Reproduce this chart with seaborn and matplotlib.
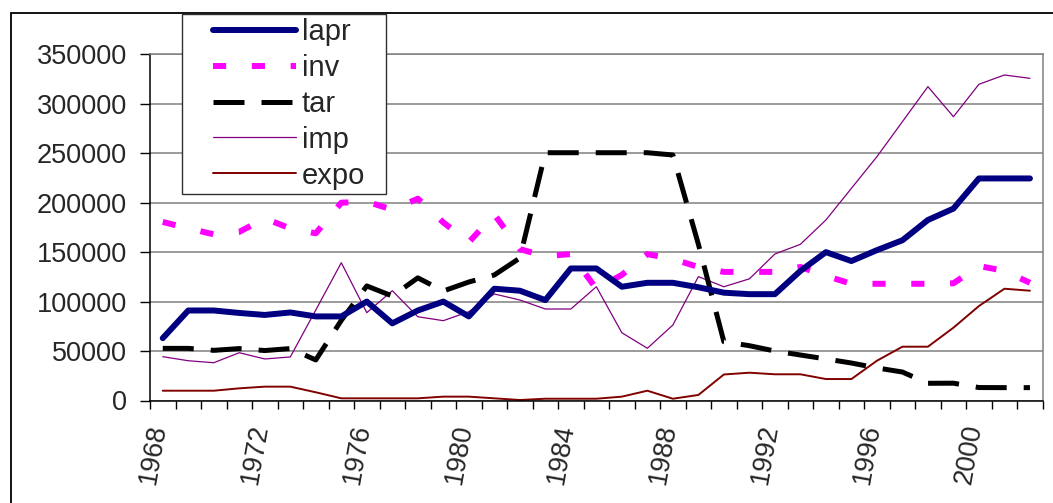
import matplotlib
matplotlib.use('Agg')
import matplotlib.pyplot as plt
import matplotlib.transforms as mtransforms
from matplotlib.patches import Rectangle
import numpy as np
import pandas as pd
import seaborn as sns

years = list(range(1968, 2003))

lapr = [63000, 91000, 91000, 88500, 86500, 89000, 85000, 85000, 100000, 78000,
        91000, 100000, 85000, 113000, 111000, 101500, 133500, 133500, 115000, 119000,
        119000, 114500, 109000, 107500, 107500, 131000, 150000, 141000, 152000, 162000,
        182500, 194000, 224500, 224500, 224500]
inv = [180500, 174000, 168000, 170500, 184000, 174000, 169000, 200000, 201000, 193000,
       204000, 180000, 160000, 188000, 153000, 146000, 148000, 113000, 127000, 148000,
       143000, 135000, 130000, 130000, 130000, 135000, 126000, 118000, 118000, 118000,
       118000, 118500, 136000, 131000, 119000]
tar = [52700, 52700, 50700, 52500, 50500, 52500, 41000, 81000, 115800, 105600,
       124000, 110700, 119800, 126900, 144000, 250500, 250500, 250500, 250500, 250500,
       248200, 158000, 59400, 55400, 50000, 46000, 42000, 37900, 32900, 28800,
       17400, 17500, 13100, 13000, 13000]
imp = [44300, 40200, 38200, 48300, 42000, 44000, 91500, 139300, 88800, 111000,
       84700, 80700, 89800, 107700, 101600, 92500, 92500, 115000, 68500, 52800,
       76300, 125200, 115000, 123000, 148100, 157900, 182500, 214500, 246500, 281900,
       317300, 286900, 319700, 329100, 325700]
expo = [9900, 9900, 9900, 12300, 14000, 14000, 8300, 2200, 2200, 2200,
        2200, 3900, 3900, 2200, 500, 1800, 1800, 1800, 3900, 9900,
        1800, 5600, 26300, 28100, 26500, 26500, 21700, 21700, 40200, 54400,
        54400, 73600, 95500, 113000, 111000]

year_labels = [str(y) for y in range(1968, 2001, 4)]

df = pd.DataFrame({'year': years, 'lapr': lapr, 'inv': inv, 'tar': tar,
                   'imp': imp, 'expo': expo})

sns.set_style('white')
plt.rcParams['font.family'] = ['Liberation Sans', 'DejaVu Sans']

W, H = 1053, 503
fig = plt.figure(figsize=(W / 100, H / 100), dpi=100)
ax = fig.add_axes([150 / W, 1 - 400.5 / H, (1042.7 - 150) / W, (400.5 - 54.3) / H])

styles = {
    'lapr': dict(color='#000080', linewidth=4.3, linestyle='-'),
    'inv': dict(color='#FF00FF', linewidth=4.3, linestyle=(0, (2.2, 4.3))),
    'tar': dict(color='#000000', linewidth=3.6, linestyle=(0, (6.2, 3.4))),
    'imp': dict(color='#800080', linewidth=0.9, linestyle='-'),
    'expo': dict(color='#800000', linewidth=1.4, linestyle='-'),
}

for name in ['imp', 'expo', 'tar', 'inv', 'lapr']:
    sns.lineplot(data=df, x='year', y=name, ax=ax, errorbar=None, legend=False,
                 label=name, solid_capstyle='round', solid_joinstyle='round',
                 dash_capstyle='butt', dash_joinstyle='round', **styles[name])

ax.set_xlim(1967.5, 2002.5)
ax.set_ylim(0, 350000)
ax.set_xlabel('')
ax.set_ylabel('')

ax.set_yticks(range(0, 350001, 50000))
ax.set_yticklabels([str(v) for v in range(0, 350001, 50000)])
ax.yaxis.grid(True, color='#808080', linewidth=1.1)
ax.xaxis.grid(False)
ax.set_axisbelow(True)

ax.set_xticks(range(1968, 2001, 4))
ax.set_xticklabels(year_labels)
ax.set_xticks(np.arange(1967.5, 2003, 1), minor=True)
ax.tick_params(axis='x', which='major', length=0, pad=17, labelsize=19.5)
ax.tick_params(axis='x', which='minor', length=5.8, width=1, direction='out',
               bottom=True, color='black')
ax.tick_params(axis='y', length=7.2, width=1, direction='out', pad=9.4,
               labelsize=19.5, left=True, color='black')

offset = mtransforms.ScaledTranslation(-4.7 / 100, 0, fig.dpi_scale_trans)
for t in ax.get_xticklabels():
    t.set_rotation(80)
    t.set_rotation_mode('anchor')
    t.set_ha('right')
    t.set_va('center')
    t.set_transform(t.get_transform() + offset)

for side in ['top', 'right']:
    ax.spines[side].set_color('#808080')
    ax.spines[side].set_linewidth(1.1)
for side in ['left', 'bottom']:
    ax.spines[side].set_color('black')
    ax.spines[side].set_linewidth(1.1)

# outer chart border
fig.add_artist(Rectangle((11 / W, -0.1), 1.2, 1 - 13 / H + 0.1, transform=fig.transFigure,
                         facecolor='none', edgecolor='black', linewidth=1.3, zorder=5))

# legend box
fig.add_artist(Rectangle((182 / W, 1 - 194 / H), 204 / W, 180 / H, transform=fig.transFigure,
                         facecolor='white', edgecolor='#303030', linewidth=1.0, zorder=6))

handles, labels = ax.get_legend_handles_labels()
order = ['lapr', 'inv', 'tar', 'imp', 'expo']
hmap = dict(zip(labels, handles))
leg = fig.legend([hmap[k] for k in order], order, loc='upper left',
                 bbox_to_anchor=(213 / W, 1 - 18 / H), bbox_transform=fig.transFigure,
                 frameon=False, fontsize=21, handlelength=2.85, handletextpad=0.2,
                 labelspacing=0.27, borderpad=0, borderaxespad=0)
leg.set_zorder(7)

fig.savefig('out.png', dpi=100)
